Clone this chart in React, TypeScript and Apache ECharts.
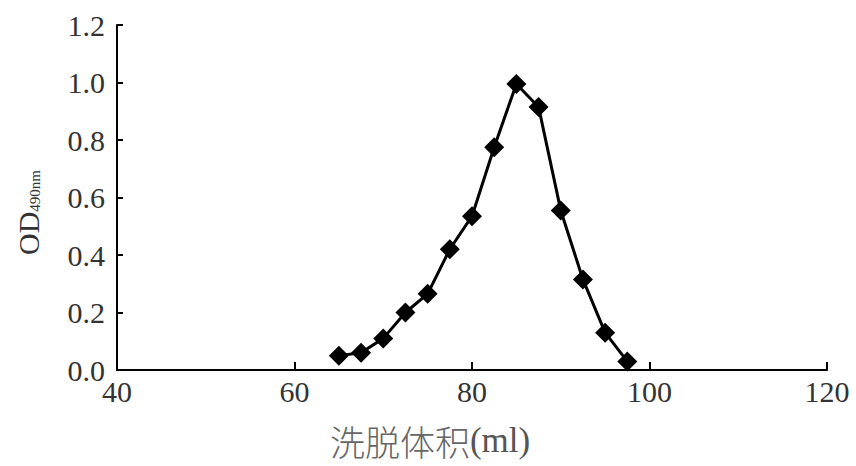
import React, { useEffect, useRef } from "react";
import * as echarts from "echarts";

const volumes = [65, 67.5, 70, 72.5, 75, 77.5, 80, 82.5, 85, 87.5, 90, 92.5, 95, 97.5];
const odValues = [0.05, 0.06, 0.11, 0.2, 0.265, 0.42, 0.535, 0.775, 0.995, 0.915, 0.555, 0.315, 0.13, 0.03];
const xTitleMain = "洗脱体积";
const xTitleUnit = "(ml)";
const yTitleMain = "OD";
const yTitleSub = "490nm";

export default function App() {
  const ref = useRef<HTMLDivElement>(null);
  useEffect(() => {
    document.body.style.margin = "0";
    if (!ref.current) return;
    const chart = echarts.init(ref.current, undefined, { renderer: "svg" });
    const serif = "Liberation Serif";
    chart.setOption({
      animation: false,
      backgroundColor: "#ffffff",
      grid: { left: 117, right: 29, top: 25, bottom: 96 },
      xAxis: {
        type: "value",
        min: 40,
        max: 120,
        interval: 20,
        name: `{c|${xTitleMain}}{u|${xTitleUnit}}`,
        nameLocation: "middle",
        nameGap: 52,
        nameTextStyle: {
          padding: [0, 84, 0, 0],
          rich: {
            c: { fontFamily: "Noto Sans CJK SC", fontSize: 35, lineHeight: 36, color: "#666", fontWeight: 300 },
            u: { fontFamily: serif, fontSize: 35, lineHeight: 36, color: "#555" },
          },
        },
        axisLine: { lineStyle: { color: "#000", width: 2 } },
        axisTick: { inside: true, length: 8, lineStyle: { color: "#000", width: 2 } },
        axisLabel: { fontFamily: serif, fontSize: 30, color: "#333", margin: 6 },
        splitLine: { show: false },
      },
      yAxis: {
        type: "value",
        min: 0,
        max: 1.2,
        interval: 0.2,
        name: `{m|${yTitleMain}}{s|${yTitleSub}}`,
        nameLocation: "middle",
        nameRotate: 90,
        nameGap: 74,
        nameTextStyle: {
          padding: [0, 30, 0, 0],
          rich: {
            m: { fontFamily: serif, fontSize: 30, color: "#333" },
            s: { fontFamily: serif, fontSize: 15, color: "#333", padding: [14, 0, 0, 0] },
          },
        },
        axisLine: { show: true, lineStyle: { color: "#000", width: 2 } },
        axisTick: { show: true, inside: true, length: 6, lineStyle: { color: "#000", width: 2 } },
        axisLabel: {
          fontFamily: serif,
          fontSize: 30,
          color: "#333",
          margin: 12,
          formatter: (v: number) => v.toFixed(1),
        },
        splitLine: { show: false },
      },
      series: [
        {
          type: "line",
          data: volumes.map((v, i) => [v, odValues[i]]),
          symbol: "diamond",
          symbolSize: 20,
          lineStyle: { color: "#000", width: 3 },
          itemStyle: { color: "#000" },
        },
      ],
    });
    return () => chart.dispose();
  }, []);
  return <div ref={ref} style={{ width: 856, height: 466 }} />;
}
